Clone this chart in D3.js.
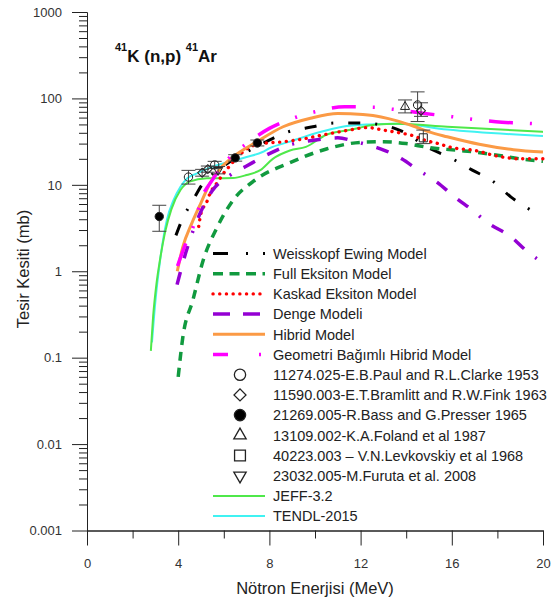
<!DOCTYPE html>
<html>
<head>
<meta charset="utf-8">
<script src="https://cdn.jsdelivr.net/npm/d3@7"></script>
<style>
body { margin: 0; background: #fff; }
text { font-family: "Liberation Sans", Arial, sans-serif; }
</style>
</head>
<body>
<script>
// ---- model curves: neutron energy (MeV) / cross section (mb) ----
var weX = [3.9, 4.2, 4.6, 5.1, 5.6, 6.2, 7.0, 7.8, 8.7, 9.9, 10.9, 12.0, 13.0, 14.0, 14.9, 15.9, 16.9, 17.8, 18.6, 19.7];
var weY = [2.6, 4.1, 6.3, 10.5, 14, 18, 24, 31, 40, 47, 52, 52, 49, 39.5, 27.5, 20.8, 14.8, 11, 7.2, 4.7];

var feX = [4.0, 4.2, 4.65, 5.1, 5.7, 6.4, 7.4, 8.9, 10.5, 12.0, 13.0, 14.0, 15.0, 16.3, 17.0, 18.0, 19.0, 20.0];
var feY = [0.06, 0.17, 0.47, 1.35, 3.2, 6.6, 11.5, 18, 26, 31, 31.5, 30, 27, 25, 24, 22, 20, 18.7];

var keX = [4.9, 5.0, 5.25, 5.4, 5.7, 6.0, 6.3, 6.6, 7.1, 7.7, 8.6, 9.2, 10.4, 11.5, 12.3, 13.0, 13.7, 14.3, 14.8, 15.4, 16.0, 17.0, 18.0, 19.0, 20.0];
var keY = [3.3, 4.7, 6.3, 8, 10.5, 13.7, 17, 21, 27, 30, 31.5, 33, 38, 43, 46, 43, 40, 37, 33, 30, 27, 25, 21.5, 20, 20];

var dmX = [3.95, 4.35, 4.9, 5.5, 6.2, 7.0, 8.0, 8.9, 10.0, 11.0, 11.8, 12.7, 13.3, 13.8, 14.5, 15.3, 16.2, 16.9, 17.6, 18.6, 19.3, 20.0];
var dmY = [0.7, 1.7, 4.3, 8.6, 12.5, 16.5, 23, 29, 33, 35, 31.5, 27, 23.5, 20, 15, 11, 7, 5.1, 3.6, 2.5, 1.7, 1.25];

var hbX = [3.96, 4.2, 4.6, 5.0, 5.4, 5.85, 6.4, 7.45, 8.6, 9.8, 11.0, 12.1, 12.9, 13.6, 14.3, 15.0, 15.8, 17.2, 18.7, 20.0];
var hbY = [1.0, 1.9, 3.6, 6.2, 10.5, 15.5, 21, 31.5, 47, 59, 67, 65, 61, 55, 48, 41, 36, 29.5, 25.5, 24];

var gbX = [3.97, 4.3, 4.7, 5.05, 5.5, 6.2, 7.0, 8.0, 9.2, 10.0, 11.3, 12.6, 13.4, 14.8, 16.0, 16.9, 18.2, 19.6, 20.0];
var gbY = [1.15, 2.0, 3.5, 7.2, 11.4, 20, 30, 45, 61, 70, 80, 79, 75, 67, 61.5, 57.5, 53, 51, 50];

var jfX = [2.8, 2.9, 3.05, 3.2, 3.42, 3.7, 4.1, 4.5, 5.25, 6.4, 7.0, 7.6, 8.15, 8.9, 9.6, 10.5, 11.5, 12.7, 13.6, 15.8, 20.0];
var jfY = [0.12, 0.3, 0.73, 1.35, 2.8, 5.2, 8.7, 10.9, 11.9, 12, 13, 14.8, 20, 25, 27.5, 38, 43, 50, 51, 47, 41];

var tdX = [2.85, 3.0, 3.2, 3.5, 3.8, 4.1, 4.4, 4.8, 5.5, 6.6, 7.0, 7.7, 8.0, 8.9, 10.1, 11.2, 12.4, 13.6, 15.8, 20.0];
var tdY = [0.15, 0.45, 1.3, 3.9, 6.7, 9.5, 11.9, 13.5, 16.2, 19.6, 21, 24, 26.5, 31.6, 40, 47, 50, 51, 43.6, 36.7];

// ---- experimental points (EXFOR) with error bar limits ----
var paulX = [4.45, 5.6, 14.5], paulY = [12.3, 17, 84], paulLo = [10.2, 15.5, 54], paulHi = [14.7, 18.7, 119];
var bramX = [5.05, 5.3, 14.65], bramY = [13.8, 15.2, 72], bramLo = [12.6, 14, 62], bramHi = [15.1, 16.5, 89];
var bassX = [3.17, 6.5, 7.47], bassY = [4.3, 20.5, 30.5], bassLo = [2.9, 18.8, 28.2], bassHi = [5.8, 22.3, 33];
var folX = [13.95], folY = [80], folLo = [68], folHi = [96];
var levX = [14.75], levY = [35], levLo = [30], levHi = [43];
var furX = [5.75], furY = [14.8], furLo = [13.4], furHi = [16.3];

// ---- axis ticks and labels ----
var xTicks = [0, 4, 8, 12, 16, 20];
var xMinor = [2, 6, 10, 14, 18];
var yTicks = [0.001, 0.01, 0.1, 1, 10, 100, 1000];
var yLabels = ["0.001", "0.01", "0.1", "1", "10", "100", "1000"];

var legendNames = [
    "Weisskopf Ewing Model",
    "Full Eksiton Model",
    "Kaskad Eksiton Model",
    "Denge Modeli",
    "Hibrid Model",
    "Geometri Bağımlı Hibrid Model",
    "11274.025-E.B.Paul and R.L.Clarke 1953",
    "11590.003-E.T.Bramlitt and R.W.Fink 1963",
    "21269.005-R.Bass and G.Presser 1965",
    "13109.002-K.A.Foland et al 1987",
    "40223.003 \u2013 V.N.Levkovskiy et al 1968",
    "23032.005-M.Furuta et al. 2008",
    "JEFF-3.2",
    "TENDL-2015"
];

var W = 560, H = 603;
var svg = d3.select("body").append("svg")
    .attr("width", W)
    .attr("height", H);
svg.append("rect").attr("width", W).attr("height", H).attr("fill", "#fff");

var x = d3.scaleLinear().domain([0, 20]).range([87, 543]);
var y = d3.scaleLog().domain([0.001, 1000]).range([530.5, 12]);

// minor y ticks 2..9 per decade
var yMinor = [];
yTicks.slice(0, -1).forEach(function(d) {
    for (var k = 2; k <= 9; k++) yMinor.push(d * k);
});

function styleAxis(g) {
    g.attr("font-family", null).attr("font-size", null);
    g.selectAll("path, line").attr("stroke", "#222").attr("stroke-width", 1);
    g.selectAll("text").attr("fill", "#333").style("font-size", "13px");
}

svg.append("g")
    .attr("transform", "translate(87,0)")
    .call(d3.axisLeft(y).tickValues(yMinor).tickSize(8).tickSizeOuter(0).tickFormat(""))
    .call(styleAxis);
svg.append("g")
    .attr("transform", "translate(87,0)")
    .call(d3.axisLeft(y).tickValues(yTicks).tickSize(15).tickSizeOuter(0).tickPadding(10)
        .tickFormat(function(d, i) { return yLabels[i]; }))
    .call(styleAxis);

svg.append("g")
    .attr("transform", "translate(0,530.5)")
    .call(d3.axisBottom(x).tickValues(xMinor).tickSize(8).tickSizeOuter(0).tickFormat(""))
    .call(styleAxis);
svg.append("g")
    .attr("transform", "translate(0,530.5)")
    .call(d3.axisBottom(x).tickValues(xTicks).tickSize(15).tickSizeOuter(0).tickPadding(13))
    .call(styleAxis);

// axis titles
svg.append("text")
    .attr("x", 315).attr("y", 594)
    .attr("text-anchor", "middle")
    .style("font-size", "16.5px").attr("fill", "#222")
    .text("Nötron Enerjisi (MeV)");
svg.append("text")
    .attr("transform", "translate(28.5,269) rotate(-90)")
    .attr("text-anchor", "middle")
    .style("font-size", "16.5px").attr("fill", "#222")
    .text("Tesir Kesiti (mb)");

// reaction label
var title = svg.append("text")
    .attr("x", 115).attr("y", 62)
    .attr("fill", "#111")
    .style("font-weight", "bold").style("font-size", "17px");
title.append("tspan").attr("dy", -11).style("font-size", "11px").text("41");
title.append("tspan").attr("dy", 11).text("K (n,p) ");
title.append("tspan").attr("dy", -11).style("font-size", "11px").text("41");
title.append("tspan").attr("dy", 11).text("Ar");

// model line styles
var lines = [
    {xs: weX, ys: weY, color: "#000000", width: 3, dash: "12,15,2,15", legDash: "15,18,2,15,2,20", cap: "butt"},
    {xs: feX, ys: feY, color: "#119a3f", width: 3.5, dash: "9,7", legDash: "10,6.5", cap: "butt"},
    {xs: keX, ys: keY, color: "#ff0000", width: 3.4, dash: "0.1,6.6", legDash: "0.1,6.6", cap: "round"},
    {xs: dmX, ys: dmY, color: "#9400d3", width: 3.5, dash: "13,14,13,14,2,14", legDash: "17,13,17,13", cap: "butt"},
    {xs: hbX, ys: hbY, color: "#fb9a45", width: 3, dash: null, legDash: null, cap: "butt"},
    {xs: gbX, ys: gbY, color: "#ff00ff", width: 3.5, dash: "24,17,2,17,2,17", legDash: "15,31,2,10", cap: "butt"}
];
var libs = [
    {xs: tdX, ys: tdY, color: "#40f2f2", width: 2, legIdx: 13},
    {xs: jfX, ys: jfY, color: "#4fe84a", width: 2, legIdx: 12}
];

var line = d3.line()
    .x(function(d) { return x(d[0]); })
    .y(function(d) { return y(d[1]); })
    .curve(d3.curveMonotoneX);

libs.forEach(function(s) {
    svg.append("path")
        .attr("d", line(d3.zip(s.xs, s.ys)))
        .attr("fill", "none")
        .attr("stroke", s.color)
        .attr("stroke-width", s.width);
});

lines.forEach(function(s) {
    svg.append("path")
        .attr("d", line(d3.zip(s.xs, s.ys)))
        .attr("fill", "none")
        .attr("stroke", s.color)
        .attr("stroke-width", s.width)
        .attr("stroke-linecap", s.cap)
        .attr("stroke-dasharray", s.dash);
});

// experimental points
var exps = [
    {xs: paulX, ys: paulY, lo: paulLo, hi: paulHi, type: "circle", fill: "none"},
    {xs: bramX, ys: bramY, lo: bramLo, hi: bramHi, type: "diamond", fill: "none"},
    {xs: bassX, ys: bassY, lo: bassLo, hi: bassHi, type: "circle", fill: "#000"},
    {xs: folX, ys: folY, lo: folLo, hi: folHi, type: "triUp", fill: "none"},
    {xs: levX, ys: levY, lo: levLo, hi: levHi, type: "square", fill: "none"},
    {xs: furX, ys: furY, lo: furLo, hi: furHi, type: "triDown", fill: "none"}
];

function symbolPath(type, big) {
    var s = big ? 1 : 0.55;
    if (type == "circle") return d3.symbol().type(d3.symbolCircle).size(100 * s)();
    if (type == "diamond") return d3.symbol().type(d3.symbolSquare).size(72 * s)();
    if (type == "square") return d3.symbol().type(d3.symbolSquare).size(118 * s)();
    return d3.symbol().type(d3.symbolTriangle).size(66 * s)();
}
function symbolRot(type) {
    if (type == "diamond") return " rotate(45)";
    if (type == "triDown") return " rotate(180)";
    return "";
}

var errG = svg.append("g")
    .attr("stroke", "#444")
    .attr("stroke-width", 1);
exps.forEach(function(e) {
    e.xs.forEach(function(xv, i) {
        var cx = x(xv);
        errG.append("line").attr("x1", cx).attr("x2", cx)
            .attr("y1", y(e.lo[i])).attr("y2", y(e.hi[i]));
        [e.lo[i], e.hi[i]].forEach(function(v) {
            errG.append("line").attr("x1", cx - 7).attr("x2", cx + 7)
                .attr("y1", y(v)).attr("y2", y(v));
        });
    });
});
exps.forEach(function(e) {
    e.xs.forEach(function(xv, i) {
        svg.append("path")
            .attr("d", symbolPath(e.type, false))
            .attr("transform", "translate(" + x(xv) + "," + y(e.ys[i]) + ")" + symbolRot(e.type))
            .attr("fill", e.fill)
            .attr("stroke", "#222")
            .attr("stroke-width", 1);
    });
});

// legend
var legY0 = 253.5, legStep = 20.2;
var leg = svg.append("g");
legendNames.forEach(function(name, i) {
    var ly = legY0 + i * legStep;
    leg.append("text")
        .attr("x", 273).attr("y", ly)
        .attr("dy", "0.36em")
        .attr("fill", "#222")
        .style("font-size", "14.5px")
        .text(name);
});
lines.forEach(function(s, i) {
    var ly = legY0 + i * legStep;
    leg.append("line")
        .attr("x1", 213).attr("x2", 265)
        .attr("y1", ly).attr("y2", ly)
        .attr("stroke", s.color)
        .attr("stroke-width", s.width)
        .attr("stroke-linecap", s.cap)
        .attr("stroke-dasharray", s.legDash);
});
exps.forEach(function(e, i) {
    var ly = legY0 + (i + 6) * legStep;
    leg.append("path")
        .attr("d", symbolPath(e.type, true))
        .attr("transform", "translate(240," + ly + ")" + symbolRot(e.type))
        .attr("fill", e.fill)
        .attr("stroke", "#222")
        .attr("stroke-width", 1.3);
});
libs.forEach(function(s) {
    var ly = legY0 + s.legIdx * legStep;
    leg.append("line")
        .attr("x1", 213).attr("x2", 265)
        .attr("y1", ly).attr("y2", ly)
        .attr("stroke", s.color)
        .attr("stroke-width", s.width);
});
</script>
</body>
</html>
